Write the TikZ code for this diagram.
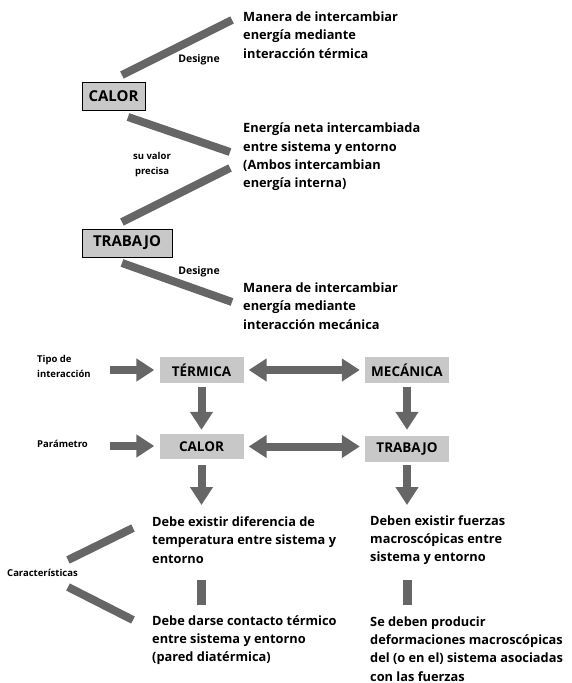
\documentclass[tikz,border=0pt]{standalone}
\usepackage{fontspec}
\setmainfont{Open Sans}
\usepackage{tikz}
\usetikzlibrary{arrows.meta,positioning,calc}
\definecolor{barcol}{HTML}{666666}
\definecolor{boxcol}{HTML}{C8C8C8}

\begin{document}
\begin{tikzpicture}[x=1pt,y=-1pt,
  bar/.style={line width=8pt,draw=barcol},
  flecha/.style={line width=8pt,draw=barcol,-{Triangle[width=22pt,length=18pt]}},
  dflecha/.style={line width=8pt,draw=barcol,{Triangle[width=22pt,length=18pt]}-{Triangle[width=22pt,length=18pt]}},
  main node/.style={draw=black,line width=1pt,fill=boxcol,inner sep=0pt,
    minimum height=28pt,font=\fontsize{15}{18}\selectfont\bfseries},
  tipo node/.style={fill=boxcol,inner sep=0pt,minimum height=26pt,minimum width=84pt,
    font=\fontsize{13.5}{15}\selectfont\bfseries},
  text node/.style={anchor=west,align=left,inner sep=0pt,
    font=\fontsize{12.8}{18.3}\selectfont\bfseries},
  small node/.style={align=left,inner sep=0pt,font=\fontsize{9.5}{15}\selectfont\bfseries}]
  \useasboundingbox (0,0) rectangle (571,683);

  % upper part
  \node[main node,minimum width=63pt] (calor) at (113.5,96) {CALOR};
  \node[main node,minimum width=90pt] (trabajo) at (127,243) {TRABAJO};
  \node[text node] (def1) at (243,35) {Manera de intercambiar\\energía mediante\\interacción térmica};
  \node[text node] (neta) at (243,157) {Energía neta intercambiada\\entre sistema y entorno\\(Ambos intercambian\\energía interna)};
  \node[text node] (def2) at (243,306) {Manera de intercambiar\\energía mediante\\interacción mecánica};
  \node[small node,font=\fontsize{10.5}{15}\selectfont\bfseries] (des1) at (199,60) {Designe};
  \node[small node,align=center] (valor) at (152,165) {su valor\\precisa};
  \node[small node,font=\fontsize{10.5}{15}\selectfont\bfseries] (des2) at (199,272) {Designe};

  \coordinate (c1) at (122,75);  \coordinate (d1) at (232,20);
  \coordinate (c2) at (128,117); \coordinate (d2) at (230,152);
  \coordinate (t2) at (122,222); \coordinate (e2) at (230,168);
  \coordinate (t3) at (122,263); \coordinate (d3) at (232,302);
  \draw[bar] (c1) -- (d1);
  \draw[bar] (c2) -- (d2);
  \draw[bar] (t2) -- (e2);
  \draw[bar] (t3) -- (d3);

  % lower part
  \node[tipo node] (termica) at (201.5,370) {TÉRMICA};
  \node[tipo node] (mecanica) at (407,370) {MECÁNICA};
  \node[tipo node,minimum height=25pt] (calor2) at (201.5,446.5) {CALOR};
  \node[tipo node] (trabajo2) at (407,449) {TRABAJO};
  \node[small node,anchor=west] (tipo) at (37,366.5) {Tipo de\\interacción};
  \node[small node,anchor=west] (param) at (37,444) {Parámetro};
  \node[small node,anchor=west] (carac) at (7,573) {Características};

  \node[text node] (dif) at (152,540) {Debe existir diferencia de\\temperatura entre sistema y\\entorno};
  \node[text node] (fuer) at (370,540) {Deben existir fuerzas\\macroscópicas entre\\sistema y entorno};
  \node[text node] (cont) at (152,640) {Debe darse contacto térmico\\entre sistema y entorno\\(pared diatérmica)};
  \node[text node] (defo) at (370,649) {Se deben producir\\deformaciones macroscópicas\\del (o en el) sistema asociadas\\con las fuerzas};

  \coordinate (tipoa) at (110,370);
  \coordinate (parama) at (110,446);
  \draw[flecha,shorten >=5pt] (tipoa) -- (termica.west);
  \draw[flecha,shorten >=5pt] (parama) -- (parama -| calor2.west);
  \draw[dflecha,shorten <=5pt,shorten >=5pt] (termica) -- (mecanica);
  \draw[dflecha,shorten <=5pt,shorten >=5pt] (calor2.east) -- (calor2.east -| trabajo2.west);
  \draw[flecha,shorten <=4pt,shorten >=4pt] (termica) -- (calor2);
  \draw[flecha,shorten <=4pt,shorten >=6pt] (mecanica) -- (trabajo2);

  \coordinate (p1) at (201.5,505); \coordinate (p2) at (407,505);
  \draw[flecha,shorten <=6pt] (calor2.south) -- (p1);
  \draw[flecha,shorten <=3pt] (trabajo2.south) -- (p2);

  \coordinate (k1) at (68,560);  \coordinate (m1) at (133,528);
  \coordinate (k2) at (68,587);  \coordinate (m2) at (133,620);
  \draw[bar] (k1) -- (m1);
  \draw[bar] (k2) -- (m2);
  \draw[bar,line width=9pt] (201.5,580) -- (201.5,605);
  \draw[bar,line width=9pt] (407,580) -- (407,605);
\end{tikzpicture}
\end{document}
